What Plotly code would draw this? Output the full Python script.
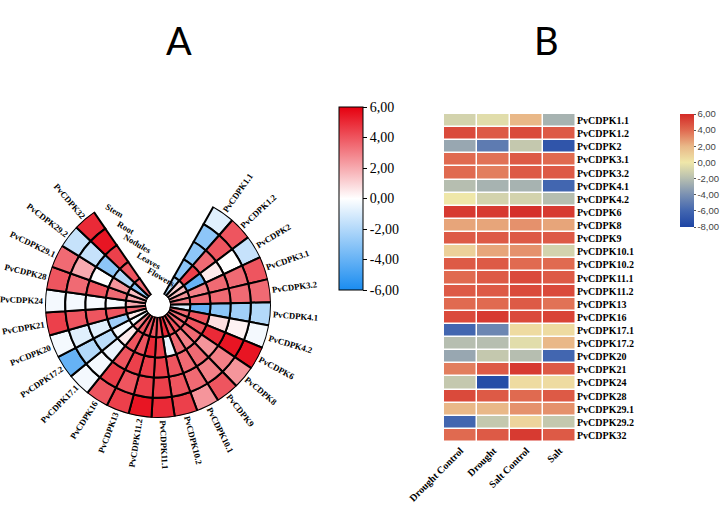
import math
import plotly.graph_objects as go

# ---------------- data ----------------
genes = ["PvCDPK1.1", "PvCDPK1.2", "PvCDPK2", "PvCDPK3.1", "PvCDPK3.2", "PvCDPK4.1",
         "PvCDPK4.2", "PvCDPK6", "PvCDPK8", "PvCDPK9", "PvCDPK10.1", "PvCDPK10.2",
         "PvCDPK11.1", "PvCDPK11.2", "PvCDPK13", "PvCDPK16", "PvCDPK17.1", "PvCDPK17.2",
         "PvCDPK20", "PvCDPK21", "PvCDPK24", "PvCDPK28", "PvCDPK29.1", "PvCDPK29.2", "PvCDPK32"]
tissues = ["Stem", "Root", "Nodules", "Leaves", "Flowers"]

stem = [-0.8, 4, -1.5, 4, 3.5, -2, -0.3, 5.5, 2.5, 4, 2.5, 4.5, 5, 5.5, 4.5, 4, -0.3, -4, -0.3, 4.5, -0.3, 4, 3.5, -1.5, 5]
root = [-3, 4, 0, 3.5, 3.5, -2.5, 0.3, 5.5, 3, 3, 3.5, 4, 4.5, 4.5, 4, 4.5, -0.3, -2, -0.8, 4, -0.3, 3.5, 2, -1.5, 5.5]
nodules = [-3, 3.5, 0.5, 3.5, 3.5, -3, 0.8, 5, 2.5, 3.5, 3.5, 4, 4.5, 4.5, 4.5, 4, -0.5, -1.8, -0.8, 4, -0.2, 4, 0, -3, 4.5]
leaves = [-3, 4.5, -4, 3, 3.5, -4, 4, 4, 3.5, 3, 3.5, -0.5, 4.5, 5, 4, 4, 0.5, -0.3, -2.5, 4, -0.2, 3.5, 2.5, -2, 4]
flowers = [-2, 1, 1.5, 2.5, 3, -1, 3.5, 3.5, 3.5, 4, 4, 5, 4, 4, 4, 4, 3, -0.2, 0.5, 3.5, 2, 2, 1.5, -3, 3.5]
tissue_values = [stem, root, nodules, leaves, flowers]

conditions = ["Drought Control", "Drought", "Salt Control", "Salt"]
drought_control = [-1, 5, -3, 4, 4, -2, 0, 5.5, 2.5, 4.5, 1, 4.5, 4, 4.5, 4, 5, -6, -2, -3, 3.5, -1.5, 5, 2, -6, 4]
drought = [-0.5, 4.5, -5, 3.8, 3.5, -2.5, -1, 5.5, 2.5, 4.5, 2.5, 4.5, 4.5, 4.5, 4, 5.5, -4.5, -2, -1.5, 4.5, -7.5, 4.5, 2, -1.5, 4.5]
salt_control = [2, 5, -1.5, 4.5, 4.5, -2.5, -1, 5.8, 3, 4.5, 3, 4, 5, 5, 4.5, 5, 0.5, -0.5, -2, 5.5, 0.5, 4, 3, 0.8, 5.5]
salt = [-2.5, 4.5, -7, 4, 4.5, -6, -2, 5.5, 2.5, 4.5, -1, 4, 4.5, 5, 3.8, 5.2, 0.5, 2, -6, 4.5, 0.5, 4.5, 3, -1.5, 4.5]

cb_a_vals = [-6, -4, -2, 0, 2, 4, 6]
cb_b_vals = [-8, -6, -4, -2, 0, 2, 4, 6]

# ---------------- geometry ----------------
W, H = 722, 509
CX, CY, R_OUT, R_IN = 158, 305, 113, 12
START, STEP = 29.4, 11.84
n = len(genes)
thetas = [START + STEP * (i + 0.5) for i in range(n)]

fig = go.Figure()
nt = len(tissues)
for t, (name, vals) in enumerate(zip(tissues, tissue_values)):
    fig.add_trace(go.Barpolar(
        r=[1] * n, base=[nt - 1 - t] * n, theta=thetas, width=[STEP] * n,
        marker=dict(color=vals, coloraxis="coloraxis",
                    line=dict(color="black", width=2)),
        name=name, showlegend=False, hoverinfo="skip"))

z = [[a, b, c, d] for a, b, c, d in zip(drought_control, drought, salt_control, salt)]
fig.add_trace(go.Heatmap(
    z=z, x=conditions, y=genes, coloraxis="coloraxis2", xgap=1.5, ygap=1.5,
    xaxis="x", yaxis="y", hoverinfo="skip"))

def fmt(v):
    return f"{v:.2f}".replace(".", ",")

dom_x = [(CX - R_OUT) / W, (CX + R_OUT) / W]
dom_y = [1 - (CY + R_OUT) / H, 1 - (CY - R_OUT) / H]

serif = "Liberation Serif"
fig.update_layout(
    width=W, height=H, margin=dict(l=0, r=0, t=0, b=0, autoexpand=False),
    paper_bgcolor="white", plot_bgcolor="white",
    polar=dict(domain=dict(x=dom_x, y=dom_y), hole=R_IN / R_OUT, bgcolor="white",
               radialaxis=dict(range=[0, nt], visible=False),
               angularaxis=dict(rotation=90, direction="clockwise", visible=False)),
    coloraxis=dict(cmin=-6, cmax=6,
                   colorscale=[[0, "#1a8cf0"], [0.5, "#ffffff"], [1, "#e6000f"]],
                   colorbar=dict(x=339 / W, xanchor="left", xpad=0, ypad=0,
                                 y=1 - 198.5 / H, yanchor="middle",
                                 lenmode="pixels", len=183, thickness=24,
                                 outlinecolor="black", outlinewidth=1,
                                 ticks="outside", ticklen=4, tickcolor="black",
                                 tickvals=cb_a_vals, ticktext=[fmt(v) for v in cb_a_vals],
                                 tickfont=dict(family=serif, size=14, color="black"))),
    coloraxis2=dict(cmin=-8, cmax=6,
                    colorscale=[[0, "#1d44a4"], [2 / 14, "#4266b0"], [4 / 14, "#7a90b2"],
                                [6 / 14, "#b6beb0"], [8 / 14, "#efe7a9"], [10 / 14, "#e9b888"],
                                [12 / 14, "#e06a50"], [1, "#d42a26"]],
                    colorbar=dict(x=680 / W, xanchor="left", xpad=0, ypad=0,
                                  y=1 - 170.5 / H, yanchor="middle",
                                  lenmode="pixels", len=113, thickness=14,
                                  outlinewidth=0, ticks="outside", ticklen=2,
                                  tickcolor="#555555",
                                  tickvals=cb_b_vals, ticktext=[fmt(v) for v in cb_b_vals],
                                  tickfont=dict(family="Liberation Sans", size=9.5, color="#444444"))),
    xaxis=dict(domain=[444 / W, 576 / W], anchor="y", showgrid=False, zeroline=False,
               tickangle=-45, ticks="", showline=False, automargin=False,
               tickfont=dict(family=serif, size=10, color="black", weight="bold")),
    yaxis=dict(domain=[1 - 442 / H, 1 - 114 / H], anchor="x", side="right",
               autorange="reversed", showgrid=False, zeroline=False, ticks="",
               showline=False, automargin=False,
               tickfont=dict(family=serif, size=10, color="black", weight="bold")),
)

# ---------------- labels ----------------
widths = {"P": .611, "v": .5, "C": .722, "D": .722, "K": .778, ".": .25}
def text_len(s, size):
    return sum(widths.get(ch, .5) for ch in s) * size

ann = []
fs = 8.7
for g, th in zip(genes, thetas):
    L = text_len(g, fs)
    rr = R_OUT + 2 + L / 2
    rad = math.radians(th)
    x = CX + rr * math.sin(rad)
    y = CY - rr * math.cos(rad)
    ang = th - 90 if th < 180 else th + 90 - 360
    ann.append(dict(x=x / W, y=1 - y / H, xref="paper", yref="paper", text=g,
                    showarrow=False, textangle=ang, xanchor="center", yanchor="middle",
                    font=dict(family=serif, size=fs, color="black", weight="bold")))

edge = math.radians(START + STEP * n)
ring_w = (R_OUT - R_IN) / nt
for t, name in enumerate(tissues):
    rm = R_OUT - ring_w * (t + 0.5) - 1
    ex = CX + rm * math.sin(edge)
    ey = CY - rm * math.cos(edge)
    off = 18
    x = ex + off * math.cos(edge)
    y = ey + off * math.sin(edge)
    ann.append(dict(x=x / W, y=1 - y / H, xref="paper", yref="paper", text=name,
                    showarrow=False, textangle=30, xanchor="center", yanchor="middle",
                    font=dict(family=serif, size=fs, color="black", weight="bold")))

ann.append(dict(x=164 / W, y=1 - 15 / H, xref="paper", yref="paper", text="A",
                showarrow=False, font=dict(family="Lato", size=38, color="black")))
ann.append(dict(x=561 / W, y=1 - 15 / H, xref="paper", yref="paper", text="B",
                showarrow=False, font=dict(family="Lato", size=38, color="black")))
fig.update_layout(annotations=ann)

fig.write_html("out.html")
